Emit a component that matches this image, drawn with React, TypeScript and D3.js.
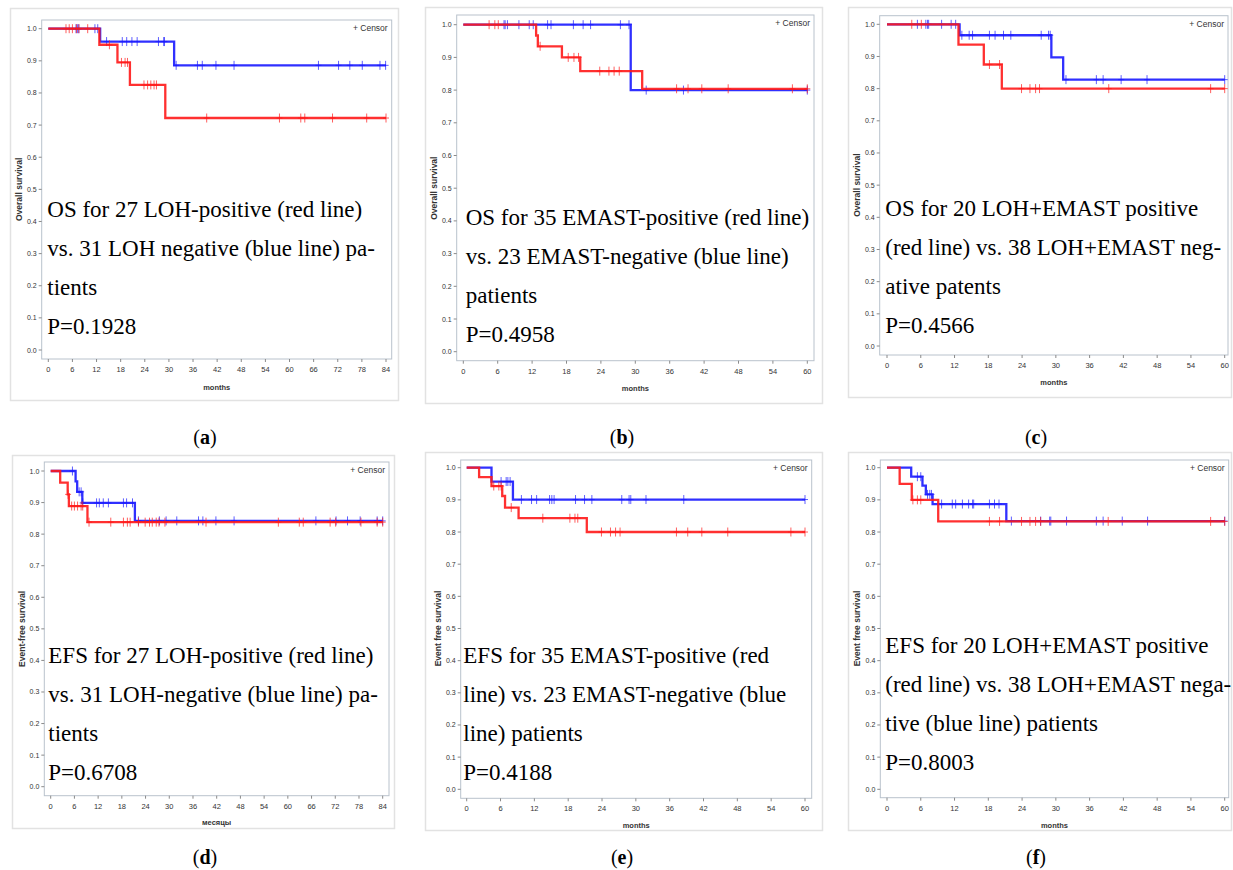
import React from 'react';
import * as d3 from 'd3';

// ---- data (months, survival) ----
const ticks84 = [0, 6, 12, 18, 24, 30, 36, 42, 48, 54, 60, 66, 72, 78, 84];
const ticks60 = [0, 6, 12, 18, 24, 30, 36, 42, 48, 54, 60];
const survTicks = [0, 0.1, 0.2, 0.3, 0.4, 0.5, 0.6, 0.7, 0.8, 0.9, 1.0];

// (a) OS, LOH
const aRedT = [12.7, 17.2, 20.3, 29.1];
const aRedS = [0.95, 0.895, 0.825, 0.722];
const aRedC = [4.4, 5.2, 6.0, 7.0, 7.6, 9.8, 15.2, 18.2, 19.1, 19.7, 23.8, 24.7, 25.5, 26.3, 26.9, 39.4, 57.5, 62.8, 63.8, 70.7, 79.2, 84];
const aBlueT = [12.9, 31.3];
const aBlueS = [0.96, 0.886];
const aBlueC = [6.9, 7.3, 7.6, 11.6, 12.3, 14.5, 18.4, 19.5, 20.8, 22.1, 27.4, 28.7, 28.9, 31.8, 37.1, 38.3, 41.7, 46.2, 67.2, 72.2, 75.0, 78.1, 82.5, 83.9];

// (b) OS, EMAST
const bRedT = [12.7, 13.0, 17.2, 20.4, 31.2];
const bRedS = [0.967, 0.934, 0.9, 0.858, 0.804];
const bRedC = [4.5, 5.5, 6.1, 13.4, 18.3, 19.3, 20.1, 23.8, 25.4, 26.3, 27.2, 37.2, 39.2, 41.6, 46.2, 57.4, 60];
const bBlueT = [29.2];
const bBlueS = [0.8];
const bBlueC = [7.1, 7.3, 7.7, 9.7, 11.5, 12.2, 14.7, 15.3, 19.2, 20.9, 22.2, 27.4, 28.9, 31.9, 38.4, 60];

// (c) OS, LOH+EMAST
const cRedT = [12.7, 17.2, 20.4];
const cRedS = [0.937, 0.875, 0.8];
const cRedC = [4.4, 6.1, 18.2, 20.0, 23.9, 25.4, 26.4, 27.1, 39.4, 57.5, 60];
const cBlueT = [12.9, 29.2, 31.3];
const cBlueS = [0.966, 0.897, 0.828];
const cBlueC = [5.4, 6.9, 7.2, 7.4, 9.7, 11.4, 12.2, 13.3, 14.6, 15.2, 18.2, 19.2, 20.7, 22.0, 27.4, 28.7, 29.0, 31.8, 37.2, 38.4, 41.6, 46.2, 60];

// (d) EFS, LOH
const dRedT = [2.4, 4.3, 4.6, 9.3];
const dRedS = [0.963, 0.926, 0.889, 0.838];
const dRedC = [4.4, 5.3, 6.0, 6.8, 7.7, 8.1, 9.7, 15.2, 18.4, 19.4, 20.1, 22.2, 23.9, 25.0, 25.7, 26.7, 27.4, 28.9, 39.3, 57.6, 62.9, 63.9, 70.7, 72.1, 78.5, 82.6, 84];
const dBlueT = [6.3, 6.7, 8.0, 21.3];
const dBlueS = [0.967, 0.934, 0.899, 0.842];
const dBlueC = [5.5, 7.2, 7.7, 8.1, 11.6, 12.3, 13.3, 14.6, 18.4, 19.2, 20.7, 22.2, 27.5, 29.2, 31.9, 37.4, 38.5, 41.8, 46.4, 67.1, 72.2, 75.1, 78.3, 82.6, 84];

// (e) EFS, EMAST
const eRedT = [2.2, 4.4, 6.3, 6.8, 9.2, 21.3];
const eRedS = [0.971, 0.943, 0.912, 0.876, 0.843, 0.8];
const eRedC = [4.8, 5.7, 6.1, 7.9, 13.5, 18.3, 19.2, 19.7, 23.9, 25.5, 26.4, 27.2, 37.2, 39.2, 41.7, 46.3, 57.5, 60];
const eBlueT = [4.4, 8.2];
const eBlueS = [0.957, 0.901];
const eBlueC = [6.1, 7.0, 7.3, 7.7, 9.7, 11.5, 12.4, 14.7, 15.1, 15.5, 19.3, 20.9, 22.2, 27.5, 28.8, 29.1, 31.8, 38.5, 60];

// (f) EFS, LOH+EMAST
const fRedT = [2.25, 4.4, 9.1];
const fRedS = [0.95, 0.9, 0.833];
const fRedC = [4.6, 5.4, 6.0, 18.2, 20.0, 23.9, 25.4, 26.4, 27.3, 39.3, 57.5, 60];
const fBlueT = [4.3, 6.3, 6.9, 8.1, 21.2];
const fBlueS = [0.972, 0.944, 0.917, 0.887, 0.834];
const fBlueC = [5.4, 6.0, 7.2, 7.6, 7.9, 9.7, 11.6, 12.2, 13.4, 14.5, 15.2, 15.4, 18.2, 19.1, 19.9, 22.1, 27.3, 28.9, 29.1, 31.9, 37.2, 38.4, 41.8, 46.3, 60];

const aText = ['OS for 27 LOH-positive (red line)', 'vs. 31 LOH negative (blue line) pa-', 'tients', 'P=0.1928'];
const bText = ['OS for 35 EMAST-positive (red line)', 'vs. 23 EMAST-negative (blue line)', 'patients', 'P=0.4958'];
const cText = ['OS for 20 LOH+EMAST positive', '(red line) vs. 38 LOH+EMAST neg-', 'ative patents', 'P=0.4566'];
const dText = ['EFS for 27 LOH-positive (red line)', 'vs. 31 LOH-negative (blue line) pa-', 'tients', 'P=0.6708'];
const eText = ['EFS for 35 EMAST-positive (red', 'line) vs. 23 EMAST-negative (blue', 'line) patients', 'P=0.4188'];
const fText = ['EFS for 20 LOH+EMAST positive', '(red line) vs. 38 LOH+EMAST nega-', 'tive (blue line) patients', 'P=0.8003'];

// ---- layout (pixel boxes of each sub-image) ----
const layouts = [
  { outer: [10, 8, 388, 392], frame: [41.7, 20, 391.7, 359], xr: [48.3, 386], yr: [350, 28.7], tx: 47.3, ty: 217, ylx: 19, xly: 390 },
  { outer: [425, 7, 397, 396], frame: [456.7, 15, 814, 360.7], xr: [463.3, 807.3], yr: [351.7, 24.7], tx: 465.7, ty: 225, ylx: 434.3, xly: 391 },
  { outer: [848, 7, 383, 390], frame: [879.7, 15.7, 1228, 355], xr: [887, 1224.7], yr: [346, 24.3], tx: 885.3, ty: 215.7, ylx: 857.3, xly: 385 },
  { outer: [12, 455, 382, 373], frame: [44.3, 462, 389, 795.7], xr: [50.7, 382.7], yr: [786.7, 471], tx: 48.3, ty: 663, ylx: 21.7, xly: 825 },
  { outer: [425, 452, 397, 378], frame: [460.7, 460, 811.7, 798.3], xr: [466.7, 805], yr: [789.3, 467.7], tx: 463.3, ty: 663, ylx: 437.7, xly: 828 },
  { outer: [848, 452, 383, 378], frame: [880.3, 460, 1228.7, 797.7], xr: [887, 1224.7], yr: [789.3, 467.7], tx: 885.3, ty: 653, ylx: 857.3, xly: 828 },
];

const panels = [
  { id: 'a', ticks: ticks84, ylab: 'Overall survival', xlab: 'months', red: [aRedT, aRedS, aRedC], blue: [aBlueT, aBlueS, aBlueC], text: aText },
  { id: 'b', ticks: ticks60, ylab: 'Overall survival', xlab: 'months', red: [bRedT, bRedS, bRedC], blue: [bBlueT, bBlueS, bBlueC], text: bText },
  { id: 'c', ticks: ticks60, ylab: 'Overall survival', xlab: 'months', red: [cRedT, cRedS, cRedC], blue: [cBlueT, cBlueS, cBlueC], text: cText },
  { id: 'd', ticks: ticks84, ylab: 'Event-free survival', xlab: 'месяцы', red: [dRedT, dRedS, dRedC], blue: [dBlueT, dBlueS, dBlueC], text: dText },
  { id: 'e', ticks: ticks60, ylab: 'Event free survival', xlab: 'months', red: [eRedT, eRedS, eRedC], blue: [eBlueT, eBlueS, eBlueC], text: eText },
  { id: 'f', ticks: ticks60, ylab: 'Event free survival', xlab: 'months', red: [fRedT, fRedS, fRedC], blue: [fBlueT, fBlueS, fBlueC], text: fText },
];

const RED = '#ff1a1a';
const BLUE = '#1a1aff';
const sans = 'Liberation Sans, Arial, sans-serif';
const serif = 'Liberation Serif, Times New Roman, serif';

// survival at time t for a step curve
function survAt(times: number[], surv: number[], t: number) {
  let s = 1;
  times.forEach((tt, i) => { if (tt <= t) s = surv[i]; });
  return s;
}

function Curve({ x, y, data, end, color }: any) {
  const [times, surv, cens] = data;
  const pts: [number, number][] = [[0, 1]];
  times.forEach((t: number, i: number) => pts.push([t, surv[i]]));
  pts.push([end, surv[surv.length - 1]]);
  const line = d3.line<[number, number]>().x(d => x(d[0])).y(d => y(d[1])).curve(d3.curveStepAfter);
  return (
    <g>
      <path d={line(pts) || ''} fill="none" stroke={color} strokeWidth={2.3} strokeOpacity={0.9} />
      {cens.map((c: number, i: number) => {
        const cx = x(c), cy = y(survAt(times, surv, c));
        return (
          <g key={i} stroke={color} strokeWidth={1} strokeOpacity={0.7}>
            <line x1={cx} x2={cx} y1={cy - 4.5} y2={cy + 4.5} />
            <line x1={cx - 3} x2={cx + 3} y1={cy} y2={cy} />
          </g>
        );
      })}
    </g>
  );
}

function Panel({ p, L }: any) {
  const xmax = p.ticks[p.ticks.length - 1];
  const x = d3.scaleLinear().domain([0, xmax]).range(L.xr);
  const y = d3.scaleLinear().domain([0, 1]).range(L.yr);
  const [fl, ft, fr, fb] = L.frame;
  const [ox, oy, ow, oh] = L.outer;
  const fmt = d3.format('.1f');
  return (
    <g>
      <rect x={ox + 0.5} y={oy + 0.5} width={ow} height={oh} fill="#fff" stroke="#e2e2e2" strokeWidth={1.5} />
      <rect x={fl} y={ft} width={fr - fl} height={fb - ft} fill="none" stroke="#b9c2cc" strokeWidth={1} />
      {survTicks.map(v => (
        <g key={v}>
          <line x1={fl - 3} x2={fl} y1={y(v)} y2={y(v)} stroke="#8a8a8a" />
          <text x={fl - 5} y={y(v) + 2.5} fontSize={7} fontFamily={sans} textAnchor="end" fill="#333">{fmt(v)}</text>
        </g>
      ))}
      {p.ticks.map((t: number) => (
        <g key={t}>
          <line x1={x(t)} x2={x(t)} y1={fb} y2={fb + 3} stroke="#8a8a8a" />
          <text x={x(t)} y={fb + 13} fontSize={7.5} fontFamily={sans} textAnchor="middle" fill="#333">{t}</text>
        </g>
      ))}
      <text x={(fl + fr) / 2} y={L.xly} fontSize={7.5} fontWeight="bold" fontFamily={sans} textAnchor="middle" fill="#333">{p.xlab}</text>
      <text transform={`translate(${L.ylx},${(L.yr[0] + L.yr[1]) / 2}) rotate(-90)`} fontSize={8.5} fontWeight="bold" fontFamily={sans} textAnchor="middle" dy="0.35em" fill="#333">{p.ylab}</text>
      <text x={fr - 4} y={ft + 11} fontSize={8.5} fontFamily={sans} textAnchor="end" fill="#333">+ Censor</text>
      <Curve x={x} y={y} data={p.blue} end={xmax} color={BLUE} />
      <Curve x={x} y={y} data={p.red} end={xmax} color={RED} />
      {p.text.map((s: string, i: number) => (
        <text key={i} x={L.tx} y={L.ty + i * 39} fontSize={23} fontFamily={serif} fill="#000">{s}</text>
      ))}
    </g>
  );
}

const captions = [[205, 444], [622, 444], [1036, 444], [205, 864], [622, 864], [1036, 864]];

export default function App() {
  return (
    <svg width={1233} height={870} style={{ position: 'absolute', left: 0, top: 0, background: '#fff' }}>
      <rect width={1233} height={870} fill="#fff" />
      {panels.map((p, i) => <Panel key={p.id} p={p} L={layouts[i]} />)}
      {panels.map((p, i) => (
        <text key={p.id} x={captions[i][0]} y={captions[i][1]} fontSize={20} fontFamily={serif} textAnchor="middle" fill="#000">
          (<tspan fontWeight="bold">{p.id}</tspan>)
        </text>
      ))}
    </svg>
  );
}
